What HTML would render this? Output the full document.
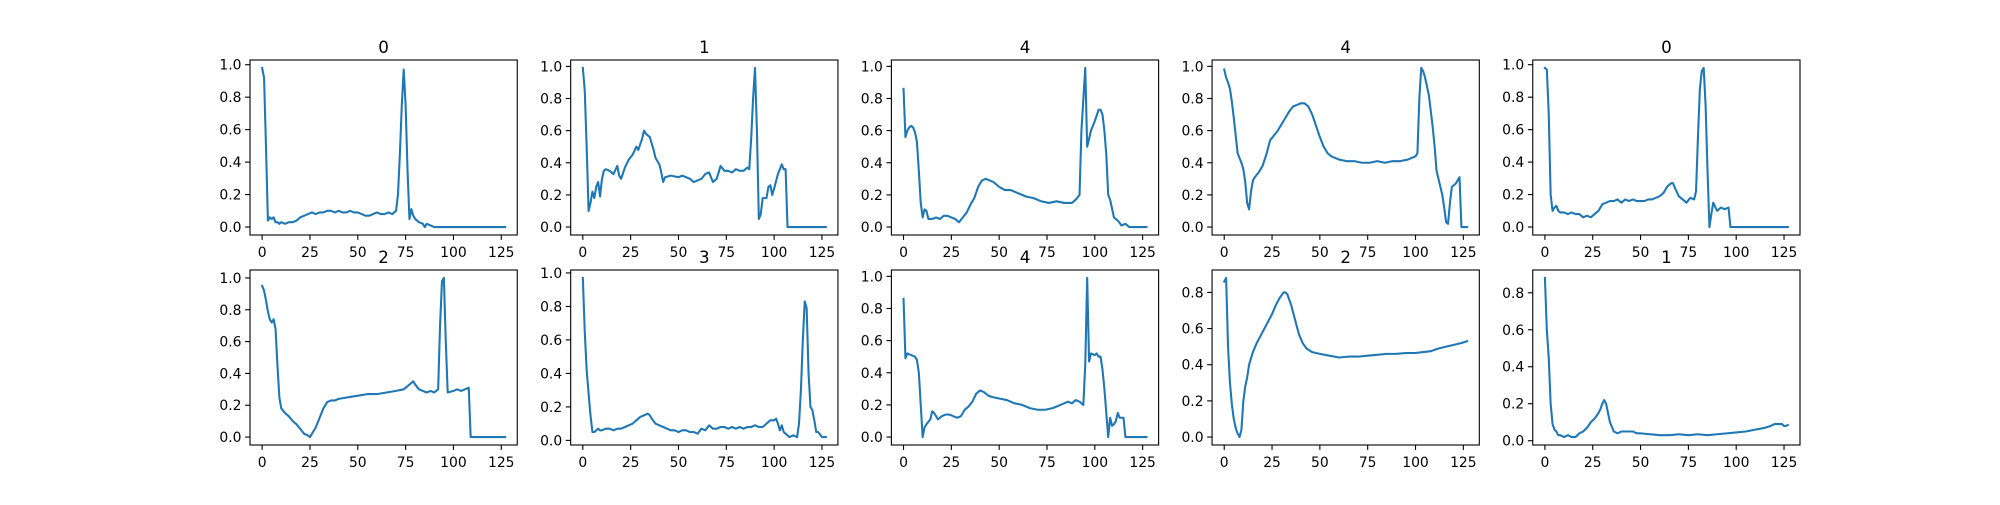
<!DOCTYPE html>
<html><head><meta charset="utf-8"><style>
html,body{margin:0;padding:0;background:#fff}
svg text{font-family:"DejaVu Sans","Liberation Sans",sans-serif;fill:#000}
</style></head><body>
<svg id="fig" width="2000" height="500" xmlns="http://www.w3.org/2000/svg"></svg>
<script>
const titles = ["0","1","4","4","0","2","3","4","2","1"];
const xs0 = [0,1,2,3,4,5,6,7,8,9,10,12,14,16,18,20,22,24,26,28,30,32,34,36,38,40,42,44,46,48,50,52,54,56,58,60,62,64,66,68,70,71,72,73,74,75,76,77,78,79,80,82,84,85,86,88,90,127];
const ys0 = [0.98,0.92,0.5,0.04,0.06,0.05,0.06,0.03,0.03,0.02,0.03,0.02,0.03,0.03,0.04,0.06,0.07,0.08,0.09,0.08,0.09,0.09,0.10,0.10,0.09,0.10,0.09,0.09,0.10,0.09,0.09,0.08,0.07,0.07,0.08,0.09,0.08,0.08,0.09,0.08,0.10,0.2,0.45,0.75,0.97,0.75,0.35,0.05,0.11,0.07,0.05,0.03,0.02,0.0,0.02,0.01,0,0];
const xs1 = [0,1,2,3,4,5,6,7,8,9,10,11,12,14,16,18,19,20,22,24,26,28,29,31,32,33,35,37,38,40,41,42,43,46,50,52,54,56,58,60,62,64,66,68,70,72,74,76,78,80,82,84,86,87,88,89,90,91,92,93,94,96,97,98,99,100,102,104,105,106,107,127];
const ys1 = [0.99,0.85,0.5,0.1,0.15,0.22,0.18,0.25,0.28,0.19,0.3,0.35,0.36,0.35,0.33,0.38,0.32,0.3,0.37,0.42,0.45,0.5,0.48,0.55,0.6,0.58,0.56,0.48,0.43,0.39,0.34,0.28,0.31,0.32,0.31,0.32,0.31,0.3,0.28,0.29,0.3,0.33,0.34,0.28,0.3,0.38,0.35,0.35,0.34,0.36,0.35,0.35,0.37,0.36,0.55,0.8,0.99,0.6,0.05,0.08,0.18,0.18,0.25,0.26,0.2,0.24,0.33,0.39,0.36,0.36,0.0,0];
const xs2 = [0,1,2,3,4,5,6,7,8,9,10,11,12,13,15,17,19,21,23,25,27,29,31,33,35,37,39,41,43,45,47,50,53,56,60,64,68,72,76,80,84,88,90,92,93,95,96,98,100,102,103,104,105,106,107,108,110,112,114,116,118,127];
const ys2 = [0.86,0.56,0.6,0.62,0.63,0.62,0.59,0.53,0.35,0.15,0.06,0.11,0.1,0.05,0.05,0.06,0.05,0.07,0.07,0.06,0.05,0.03,0.06,0.09,0.14,0.18,0.25,0.29,0.3,0.29,0.28,0.25,0.23,0.23,0.21,0.19,0.18,0.16,0.15,0.16,0.15,0.15,0.17,0.2,0.6,0.99,0.5,0.6,0.66,0.73,0.73,0.7,0.6,0.45,0.2,0.17,0.06,0.04,0.01,0.02,0.0,0];
const xs3 = [0,1,2,3,4,5,6,7,8,9,10,11,12,13,14,15,16,18,20,22,24,26,28,30,32,34,36,38,40,42,44,46,48,50,52,54,56,60,64,68,72,76,80,84,88,92,96,100,101,102,103,104,105,107,109,110,111,112,114,115,116,117,118,119,120,121,122,123,124,127];
const ys3 = [0.98,0.93,0.9,0.86,0.78,0.68,0.57,0.46,0.43,0.4,0.36,0.28,0.15,0.11,0.22,0.29,0.31,0.34,0.38,0.45,0.54,0.57,0.6,0.64,0.68,0.72,0.75,0.76,0.77,0.77,0.75,0.7,0.63,0.56,0.5,0.46,0.44,0.42,0.41,0.41,0.4,0.4,0.41,0.4,0.41,0.41,0.42,0.44,0.46,0.8,0.99,0.97,0.93,0.82,0.62,0.5,0.35,0.3,0.2,0.12,0.03,0.02,0.15,0.25,0.26,0.27,0.29,0.31,0.0,0];
const xs4 = [0,1,2,3,4,5,6,7,8,10,12,14,16,18,20,22,24,26,28,30,32,34,36,38,40,42,44,46,48,50,52,54,56,58,60,62,64,66,67,68,70,72,74,76,78,79,80,81,82,83,84,85,86,87,88,90,92,94,96,97,127];
const ys4 = [0.98,0.97,0.7,0.2,0.1,0.12,0.13,0.1,0.09,0.09,0.08,0.09,0.08,0.08,0.06,0.07,0.06,0.08,0.1,0.14,0.15,0.16,0.16,0.17,0.15,0.17,0.16,0.17,0.16,0.16,0.16,0.17,0.17,0.18,0.19,0.21,0.25,0.27,0.27,0.24,0.19,0.17,0.15,0.18,0.17,0.22,0.55,0.85,0.96,0.98,0.75,0.35,0.0,0.08,0.15,0.1,0.12,0.11,0.12,0.0,0];
const xs5 = [0,1,2,3,4,5,6,7,8,9,10,12,14,16,18,20,22,24,25,26,28,30,32,34,36,38,40,45,50,55,60,65,70,74,76,78,79,80,82,84,86,88,90,92,93,94,95,96,97,100,102,104,106,108,109,127];
const ys5 = [0.95,0.92,0.86,0.79,0.74,0.72,0.74,0.68,0.45,0.25,0.18,0.15,0.13,0.1,0.08,0.05,0.02,0.01,0.0,0.02,0.06,0.12,0.18,0.22,0.23,0.23,0.24,0.25,0.26,0.27,0.27,0.28,0.29,0.3,0.32,0.34,0.35,0.33,0.3,0.29,0.28,0.29,0.28,0.3,0.7,0.98,1.0,0.6,0.28,0.29,0.3,0.29,0.3,0.31,0.0,0];
const xs6 = [0,1,2,3,4,5,6,7,8,9,10,12,14,16,18,20,22,24,26,28,30,32,34,35,36,38,40,42,44,46,48,50,52,54,56,58,60,62,64,66,68,70,72,74,76,78,80,82,84,86,88,90,92,94,96,98,100,101,102,103,104,105,106,108,110,112,113,114,115,116,117,118,119,120,121,122,123,125,127];
const ys6 = [0.97,0.65,0.42,0.28,0.15,0.05,0.05,0.06,0.07,0.06,0.06,0.07,0.07,0.06,0.07,0.07,0.08,0.09,0.1,0.12,0.14,0.15,0.16,0.15,0.13,0.1,0.09,0.08,0.07,0.06,0.06,0.05,0.06,0.06,0.05,0.05,0.04,0.07,0.06,0.09,0.07,0.07,0.08,0.08,0.07,0.08,0.07,0.08,0.07,0.08,0.08,0.09,0.08,0.08,0.1,0.12,0.12,0.13,0.1,0.06,0.09,0.05,0.04,0.02,0.03,0.02,0.1,0.3,0.6,0.83,0.79,0.4,0.2,0.18,0.12,0.05,0.05,0.02,0.02];
const xs7 = [0,1,2,4,6,7,8,9,10,11,12,14,15,16,18,20,22,24,26,28,30,32,34,36,38,40,42,44,46,50,54,58,62,66,70,74,78,82,86,88,90,92,94,95,96,97,98,100,101,102,103,104,105,106,107,108,109,110,111,112,113,115,116,127];
const ys7 = [0.86,0.49,0.52,0.51,0.5,0.48,0.4,0.2,0.0,0.06,0.08,0.11,0.16,0.15,0.11,0.13,0.14,0.14,0.13,0.12,0.13,0.17,0.19,0.22,0.27,0.29,0.28,0.26,0.25,0.24,0.23,0.21,0.2,0.18,0.17,0.17,0.18,0.2,0.22,0.21,0.23,0.22,0.2,0.45,0.99,0.47,0.52,0.51,0.52,0.5,0.5,0.42,0.3,0.15,0.0,0.12,0.07,0.08,0.1,0.15,0.12,0.12,0.0,0];
const xs8 = [0,1,2,3,4,5,6,7,8,9,10,11,12,13,15,17,19,21,23,25,27,29,31,32,33,35,37,39,41,43,46,50,55,60,65,70,75,80,85,90,95,100,104,108,112,116,120,124,127];
const ys8 = [0.86,0.88,0.5,0.3,0.18,0.1,0.05,0.02,0.0,0.04,0.2,0.28,0.33,0.4,0.47,0.52,0.56,0.6,0.64,0.68,0.73,0.77,0.8,0.8,0.79,0.73,0.65,0.57,0.52,0.49,0.47,0.46,0.45,0.44,0.445,0.445,0.45,0.455,0.46,0.46,0.465,0.465,0.47,0.475,0.49,0.5,0.51,0.52,0.53];
const xs9 = [0,1,2,3,4,5,6,7,8,10,12,14,16,18,20,22,24,26,28,29,30,31,32,33,34,36,38,40,42,44,46,48,50,55,60,65,70,75,80,85,90,95,100,105,110,115,118,120,122,124,125,126,127];
const ys9 = [0.88,0.6,0.45,0.2,0.09,0.06,0.05,0.03,0.03,0.02,0.03,0.02,0.02,0.04,0.05,0.07,0.1,0.12,0.15,0.17,0.2,0.22,0.2,0.15,0.1,0.05,0.04,0.05,0.05,0.05,0.05,0.04,0.04,0.035,0.03,0.03,0.035,0.03,0.035,0.03,0.035,0.04,0.045,0.05,0.06,0.07,0.08,0.09,0.09,0.09,0.08,0.08,0.085];
const xTickLabels = ["0","25","50","75","100","125"];
const xTicks = [0,25,50,75,100,125];

const XS=[xs0,xs1,xs2,xs3,xs4,xs5,xs6,xs7,xs8,xs9];
const YS=[ys0,ys1,ys2,ys3,ys4,ys5,ys6,ys7,ys8,ys9];
const svg=document.getElementById('fig');
const NS='http://www.w3.org/2000/svg';
function mk(tag,attrs,parent){const e=document.createElementNS(NS,tag);for(const k in attrs)e.setAttribute(k,attrs[k]);parent.appendChild(e);return e;}
const W=1550/5.8, H=385/2.2;
for(let i=0;i<10;i++){
  const col=i%5,row=Math.floor(i/5);
  const L=250+col*W*1.2, T=60+row*H*1.2;
  const g=mk('g',{},svg);
  
  
  const xmin=-6.35,xmax=133.35;
  const ymn=Math.min(...YS[i]),ymx=Math.max(...YS[i]);
  const pad=(ymx-ymn)*0.05, y0=ymn-pad, y1=ymx+pad;
  const sx=v=>L+(v-xmin)/(xmax-xmin)*W;
  const sy=v=>T+H-(v-y0)/(y1-y0)*H;
  xTicks.forEach((t,k)=>{
    const x=sx(t);
    mk('line',{x1:x,x2:x,y1:T+H,y2:T+H+4.9,stroke:'#000','stroke-width':1.1},g);
    const tx=mk('text',{x:x,y:T+H+22,'text-anchor':'middle','font-size':13.9},g);
    tx.textContent=xTickLabels[k];
    
    
  });
  for(let t=0;t<=y1+1e-9;t+=0.2){
    const tt=Math.round(t*10)/10;
    if(tt<y0||tt>y1)continue;
    const y=sy(tt);
    mk('line',{x1:L-4.9,x2:L,y1:y,y2:y,stroke:'#000','stroke-width':1.1},g);
    const ty=mk('text',{x:L-8.5,y:y+5,'text-anchor':'end','font-size':13.9},g);
    ty.textContent=tt.toFixed(1);
    
    
  }
  let d='';
  XS[i].forEach((x,k)=>{d+=(k?'L':'M')+sx(x).toFixed(2)+' '+sy(YS[i][k]).toFixed(2);});
  const p=mk('path',{d:d,fill:'none',stroke:'#1f77b4','stroke-width':2.08,'stroke-linejoin':'round','stroke-linecap':'square'},g);
  
  
  const fr=mk('rect',{x:L,y:T,width:W,height:H,fill:'none',stroke:'#000','stroke-width':1.1},g);
  
  
  const ti=mk('text',{x:L+W/2,y:T-7,'text-anchor':'middle','font-size':16.7},g);
  ti.textContent=titles[i];
  
  
}
</script>
</body></html>
